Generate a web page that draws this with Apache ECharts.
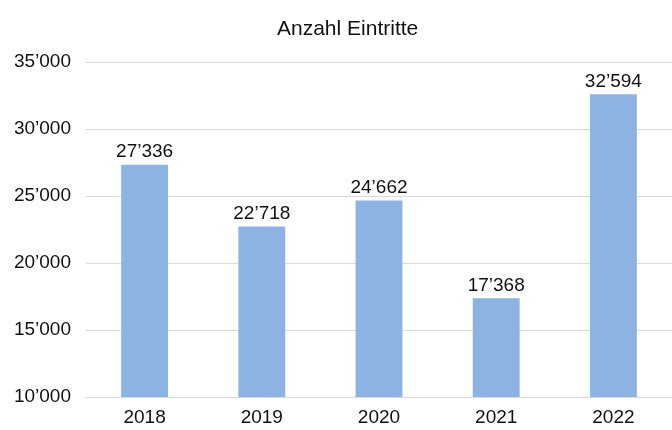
<!DOCTYPE html>
<html>
<head>
<meta charset="utf-8">
<script src="https://cdn.jsdelivr.net/npm/echarts@6/dist/echarts.min.js"></script>
<style>
  html, body { margin: 0; padding: 0; background: #fff; }
  #chart { width: 672px; height: 430px; }
</style>
</head>
<body>
<div id="chart"></div>
<script>
const years = ["2018", "2019", "2020", "2021", "2022"];
const entries = [27336, 22718, 24662, 17368, 32594];

// 27336 -> 27’336
function fmt(v) {
  return String(v).replace(/\B(?=(\d{3})+(?!\d))/g, "’");
}

const chart = echarts.init(document.getElementById("chart"));
chart.setOption({
  animation: false,
  textStyle: { fontFamily: "Liberation Sans, Arial, sans-serif" },
  title: {
    text: "Anzahl Eintritte",
    left: 272,
    top: 14,
    textStyle: { fontSize: 21, fontWeight: "normal", color: "#111" },
  },
  grid: { left: 86, right: 0, top: 62, bottom: 33 },
  xAxis: {
    type: "category",
    data: years,
    axisLine: { lineStyle: { color: "#d9d9d9" } },
    axisTick: { show: false },
    axisLabel: { color: "#111", fontSize: 19, margin: 11 },
  },
  yAxis: {
    type: "value",
    min: 10000,
    max: 35000,
    interval: 5000,
    axisLabel: { color: "#111", fontSize: 19, margin: 15, formatter: fmt },
    splitLine: { lineStyle: { color: "#d9d9d9" } },
  },
  series: [
    {
      type: "bar",
      data: entries,
      barWidth: "40%",
      itemStyle: { color: "#8db3e2" },
      label: {
        show: true,
        position: "top",
        color: "#111",
        fontSize: 19,
        distance: 3,
        formatter: (p) => fmt(p.value),
      },
    },
  ],
});
</script>
</body>
</html>
